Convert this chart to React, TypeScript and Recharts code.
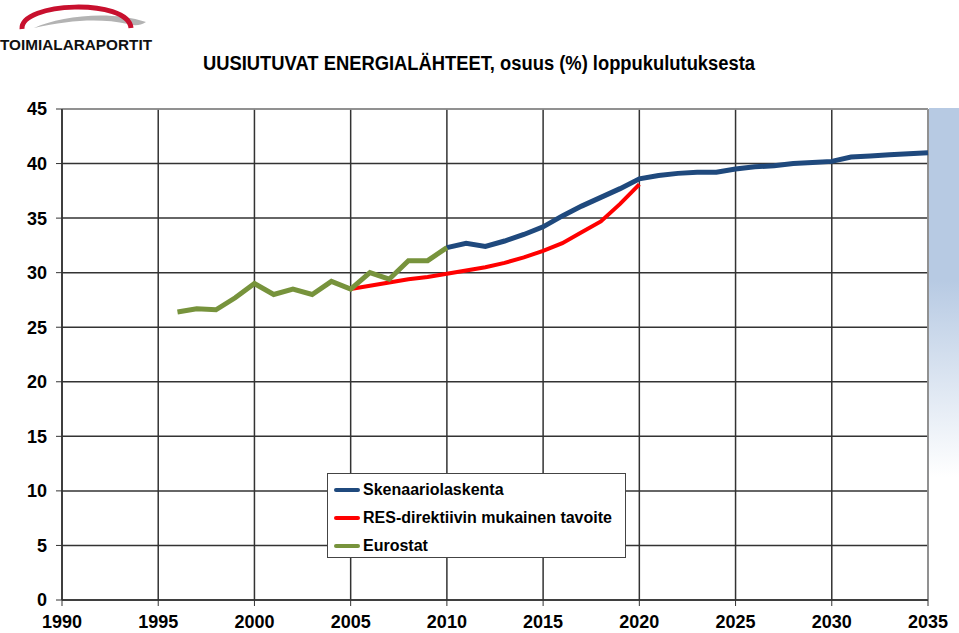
import React from 'react';
import { LineChart, Line, XAxis, YAxis, CartesianGrid, Legend, ReferenceLine } from 'recharts';

const years = Array.from({ length: 2035 - 1990 + 1 }, (_, i) => 1990 + i);

const eurostatYears = [1996, 1997, 1998, 1999, 2000, 2001, 2002, 2003, 2004, 2005, 2006, 2007, 2008, 2009, 2010];
const eurostatValues = [26.4, 26.7, 26.6, 27.7, 29.0, 28.0, 28.5, 28.0, 29.2, 28.5, 30.0, 29.4, 31.1, 31.1, 32.3];

const resYears = [2005, 2006, 2007, 2008, 2009, 2010, 2011, 2012, 2013, 2014, 2015, 2016, 2017, 2018, 2019, 2020];
const resValues = [28.5, 28.8, 29.1, 29.4, 29.6, 29.9, 30.2, 30.5, 30.9, 31.4, 32.0, 32.7, 33.7, 34.7, 36.3, 38.1];

const scenarioYears = [2010, 2011, 2012, 2013, 2014, 2015, 2016, 2017, 2018, 2019, 2020, 2021, 2022, 2023, 2024, 2025, 2026, 2027, 2028, 2029, 2030, 2031, 2032, 2033, 2034, 2035];
const scenarioValues = [32.3, 32.7, 32.4, 32.9, 33.5, 34.2, 35.2, 36.1, 36.9, 37.7, 38.6, 38.9, 39.1, 39.2, 39.2, 39.5, 39.7, 39.8, 40.0, 40.1, 40.2, 40.6, 40.7, 40.8, 40.9, 41.0];

const xTicks = [1990, 1995, 2000, 2005, 2010, 2015, 2020, 2025, 2030, 2035];
const yTicks = [0, 5, 10, 15, 20, 25, 30, 35, 40, 45];

const title = 'UUSIUTUVAT ENERGIALÄHTEET, osuus (%) loppukulutuksesta';
const seriesNames = {
  scenario: 'Skenaariolaskenta',
  res: 'RES-direktiivin mukainen tavoite',
  eurostat: 'Eurostat',
};
const legendOrder = ['scenario', 'res', 'eurostat'];

const lookup = (ys: number[], vs: number[], y: number) => {
  const i = ys.indexOf(y);
  return i >= 0 ? vs[i] : null;
};

const data = years.map((y) => ({
  year: y,
  scenario: lookup(scenarioYears, scenarioValues, y),
  res: lookup(resYears, resValues, y),
  eurostat: lookup(eurostatYears, eurostatValues, y),
}));

const FONT = 'Liberation Sans, Arial, sans-serif';

const LegendBox = (props: any) => {
  const payload = [...(props.payload || [])].sort(
    (a: any, b: any) => legendOrder.indexOf(a.dataKey) - legendOrder.indexOf(b.dataKey)
  );
  return (
    <div
      style={{
        width: 297,
        height: 81,
        border: '1px solid #444',
        background: '#fff',
        fontFamily: FONT,
        fontWeight: 'bold',
        fontSize: 16,
        color: '#000',
        paddingTop: 2,
        boxSizing: 'content-box',
        textAlign: 'left',
      }}
    >
      {payload.map((p: any) => (
        <div key={p.value} style={{ display: 'flex', alignItems: 'center', height: 28, paddingLeft: 6 }}>
          <div style={{ width: 26, height: 4, background: p.color, borderRadius: 2, marginRight: 3 }} />
          <span>{p.value}</span>
        </div>
      ))}
    </div>
  );
};

export default function App() {
  return (
    <div style={{ position: 'absolute', left: 0, top: 0, width: 959, height: 633, background: '#fff', overflow: 'hidden' }}>
      <div
        style={{
          position: 'absolute',
          left: 929,
          top: 108,
          width: 30,
          height: 492,
          background: 'linear-gradient(to bottom, #b7cae3 0%, #b7cae3 35%, #ffffff 75%)',
        }}
      />
      <svg style={{ position: 'absolute', left: 0, top: 0 }} width={959} height={100}>
        <path d="M34,28 C60,16 110,10 146,22 C140,26 134,26 128,24 C100,18 70,20 34,28 Z" fill="#b3b3b3" />
        <path d="M22,29 C20,2 128,-2 131,28" fill="none" stroke="#c8102e" strokeWidth={5} />
        <text x={0} y={50} fontFamily={FONT} fontWeight="bold" fontSize={15} textLength={152} lengthAdjust="spacingAndGlyphs" fill="#111">
          TOIMIALARAPORTIT
        </text>
        <text
          x={479}
          y={70}
          textAnchor="middle"
          fontFamily="Liberation Sans Narrow, Arial Narrow, Liberation Sans, sans-serif"
          fontWeight="bold"
          fontSize={20}
          textLength={552}
          lengthAdjust="spacingAndGlyphs"
          fill="#000"
        >
          {title}
        </text>
      </svg>
      <div style={{ position: 'absolute', left: 0, top: 0 }}>
        <LineChart width={959} height={633} data={data} margin={{ top: 109, right: 31, bottom: 0, left: 0 }}>
          <CartesianGrid stroke="#333" strokeWidth={1.5} />
          <XAxis
            dataKey="year"
            type="number"
            domain={[1990, 2035]}
            ticks={xTicks}
            height={33}
            tickSize={6}
            tickMargin={9}
            axisLine={{ stroke: '#333', strokeWidth: 1.5 }}
            tickLine={{ stroke: '#333' }}
            tick={{ fill: '#000', fontFamily: FONT, fontWeight: 'bold', fontSize: 18 }}
            interval={0}
          />
          <YAxis
            type="number"
            domain={[0, 45]}
            ticks={yTicks}
            width={62}
            tickSize={6}
            tickMargin={9}
            axisLine={{ stroke: '#333', strokeWidth: 1.5 }}
            tickLine={{ stroke: '#333' }}
            tick={{ fill: '#000', fontFamily: FONT, fontWeight: 'bold', fontSize: 18 }}
            interval={0}
          />
          <ReferenceLine y={45} stroke="#a0a0a0" strokeWidth={1.5} />
          <ReferenceLine x={2035} stroke="#a0a0a0" strokeWidth={1.5} />
          <Legend
            layout="horizontal"
            verticalAlign="middle"
            align="center"
            content={<LegendBox />}
            wrapperStyle={{ position: 'absolute', left: 327, top: 473, width: 299, height: 85 }}
          />
          <Line dataKey="scenario" name={seriesNames.scenario} stroke="#1f497d" strokeWidth={5} dot={false} isAnimationActive={false} />
          <Line dataKey="res" name={seriesNames.res} stroke="#ff0000" strokeWidth={4} dot={false} isAnimationActive={false} />
          <Line dataKey="eurostat" name={seriesNames.eurostat} stroke="#77933c" strokeWidth={5} dot={false} isAnimationActive={false} />
        </LineChart>
      </div>
    </div>
  );
}
